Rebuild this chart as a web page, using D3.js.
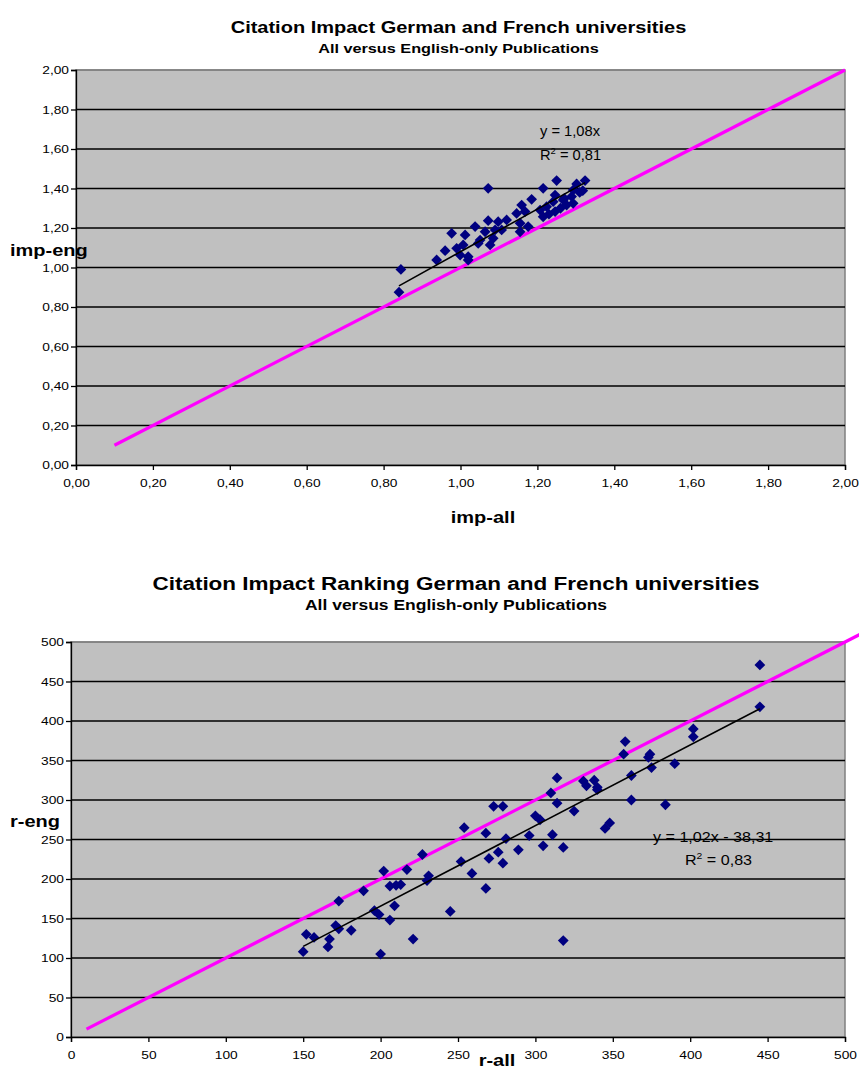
<!DOCTYPE html>
<html><head><meta charset="utf-8">
<script src="https://cdn.jsdelivr.net/npm/d3@7"></script>
<style>body{margin:0;background:#fff}svg{display:block;font-family:"Liberation Sans",Arial,sans-serif}</style>
</head><body><svg id="c" width="859" height="1072"></svg>
<script>
// ---- Data: chart 1 (citation impact) ----
const impAll = [1.072,1.250,1.324,1.302,1.215,1.318,1.293,1.246,1.185,1.241,1.267,1.289,1.159,1.276,1.293,1.224,1.146,1.168,1.207,1.215,1.246,1.120,1.098,1.072,1.155,1.176,1.155,1.038,1.064,1.090,1.107,0.977,1.012,1.051,1.085,1.077,1.046,0.990,1.007,0.960,0.999,1.020,1.020,0.938,0.845,0.840,1.230,1.260,1.310,1.270];
const impEng = [1.401,1.440,1.440,1.423,1.401,1.389,1.392,1.367,1.345,1.333,1.342,1.359,1.316,1.316,1.325,1.308,1.274,1.283,1.291,1.257,1.283,1.241,1.232,1.237,1.224,1.207,1.181,1.207,1.181,1.190,1.190,1.173,1.165,1.139,1.148,1.114,1.122,1.097,1.114,1.085,1.063,1.055,1.038,1.038,0.990,0.875,1.270,1.300,1.380,1.350];
const impTicks = [0,0.2,0.4,0.6,0.8,1.0,1.2,1.4,1.6,1.8,2.0];
const impSlope = 1.08, impR2 = "0,81";

// ---- Data: chart 2 (citation impact ranking) ----
const rAll = [445,445,402,402,390,384,374,373,375,362,362,358,357,345,348,340,338,340,333,331,325,318,318,314,314,310,311,305,300,303,296,289,281,279,273,279,276,268,270,268,259,254,252,245,230,231,227,221,217,213,210,209,206,206,202,200,199,196,189,181,173,171,173,167,166,157,152,150];
const rEng = [471,418,390,380,346,294,358,354,341,331,300,374,358,264,271,316,325,313,318,324,286,240,122,328,296,309,256,242,280,275,255,237,251,220,292,292,234,258,226,188,207,265,222,159,198,204,231,124,212,193,192,166,148,191,210,105,155,160,185,135,137,141,172,124,114,126,130,108];
const rankTicks = [0,50,100,150,200,250,300,350,400,450,500];
const rankSlope = 1.02, rankIntercept = -38.31, rankR2 = "0,83";

const SX = 1.25; // horizontal text stretch seen in the reference
const svg = d3.select("#c");
const loc = d3.formatLocale({decimal:",",thousands:".",grouping:[3],currency:["","€"]});
const f2 = loc.format(".2f"), f0 = loc.format("d");

function txt(g,x,y,s,size,bold,anchor,sx){
  return g.append("text").attr("transform",`translate(${x},${y}) scale(${sx||SX},1)`)
    .attr("text-anchor",anchor||"start").attr("font-size",size).attr("font-weight",bold?"bold":"normal").attr("fill","#000").text(s);
}

function chart(o){
  const x = d3.scaleLinear().domain(o.domain).range([o.left,o.right]);
  const y = d3.scaleLinear().domain(o.domain).range([o.bottom,o.top]);
  const g = svg.append("g");
  g.append("rect").attr("x",o.left).attr("y",o.top).attr("width",o.right-o.left).attr("height",o.bottom-o.top)
    .attr("fill","#C0C0C0").attr("stroke","#808080").attr("stroke-width",1.5);
  g.selectAll("line.grid").data(o.ticks.slice(1)).join("line").attr("class","grid")
    .attr("x1",o.left).attr("x2",o.right).attr("y1",d=>y(d)).attr("y2",d=>y(d))
    .attr("stroke",(d,i,a)=>i===a.length-1?"#808080":"#000").attr("stroke-width",1.3);
  const ax = g.append("g").attr("transform",`translate(0,${o.bottom})`)
    .call(d3.axisBottom(x).tickValues(o.ticks).tickFormat(o.fmt).tickSize(5).tickPadding(9));
  const ay = g.append("g").attr("transform",`translate(${o.left},0)`)
    .call(d3.axisLeft(y).tickValues(o.ticks).tickFormat(o.fmt).tickSize(5).tickPadding(3));
  [ax,ay].forEach(a=>{a.selectAll("path,line").attr("stroke","#000").attr("stroke-width",1.3);
    a.selectAll("text").attr("font-size",11).attr("fill","#000").attr("font-family","Liberation Sans, Arial, sans-serif");});
  ax.selectAll("text").attr("transform",`scale(${SX},1)`);
  ay.selectAll("text").attr("x",-7/SX).attr("transform",`scale(${SX},1)`);
  // identity line
  g.append("line").attr("x1",x(o.ident[0])).attr("y1",y(o.ident[0])).attr("x2",x(o.ident[1])).attr("y2",y(o.ident[1]))
    .attr("stroke","#FF00FF").attr("stroke-width",3.2);
  // points
  const sym = d3.symbol().type(d3.symbolSquare).size(58);
  g.selectAll("path.pt").data(o.xs.map((v,i)=>[v,o.ys[i]])).join("path").attr("class","pt")
    .attr("d",sym).attr("transform",d=>`translate(${x(d[0])},${y(d[1])}) rotate(45)`).attr("fill","#000080");
  // trendline
  const ext = d3.extent(o.xs);
  g.append("line").attr("x1",x(ext[0])).attr("y1",y(o.slope*ext[0]+o.intercept))
    .attr("x2",x(ext[1])).attr("y2",y(o.slope*ext[1]+o.intercept)).attr("stroke","#000").attr("stroke-width",1.6);
  // equation
  txt(g,o.eq[0],o.eq[1],o.eqText,14,false,"start",o.eqSx);
  const e2 = txt(g,o.r2[0],o.r2[1],"",14,false,"start",o.eqSx);
  e2.append("tspan").text("R");
  e2.append("tspan").attr("font-size",9).attr("dy",-6).text("2");
  e2.append("tspan").attr("dy",6).text(" = "+o.r2Text);
  // titles
  const cx = (o.left+o.right)/2 - 2;
  txt(g,cx,o.titleY,o.title,o.titleSize,true,"middle");
  txt(g,cx,o.titleY+20,o.subtitle,o.subSize,true,"middle");
  txt(g,o.ylab[0],o.ylab[1],o.ylabText,16,true,"start");
  txt(g,o.xlab[0],o.xlab[1],o.xlabText,16,true,"middle");
}

chart({left:76,right:845,top:70,bottom:465,domain:[0,2],ticks:impTicks,fmt:f2,
  xs:impAll,ys:impEng,slope:impSlope,intercept:0,ident:[0.1,2],
  eq:[540,136],eqText:"y = 1,08x",r2:[540,160],r2Text:impR2,eqSx:1.05,
  title:"Citation Impact German and French universities",subtitle:"All versus English-only Publications",titleY:33,titleSize:16,subSize:13,
  ylab:[10,256],ylabText:"imp-eng",xlab:[483,523],xlabText:"imp-all"});

chart({left:71,right:845,top:642,bottom:1037,domain:[0,500],ticks:rankTicks,fmt:f0,
  xs:rAll,ys:rEng,slope:rankSlope,intercept:rankIntercept,ident:[10,510],
  eq:[653,842],eqText:"y = 1,02x - 38,31",r2:[685,865],r2Text:rankR2,eqSx:1.15,
  title:"Citation Impact Ranking German and French universities",subtitle:"All versus English-only Publications",titleY:590,titleSize:18,subSize:14,
  ylab:[10,827],ylabText:"r-eng",xlab:[497,1066],xlabText:"r-all"});
</script></body></html>
